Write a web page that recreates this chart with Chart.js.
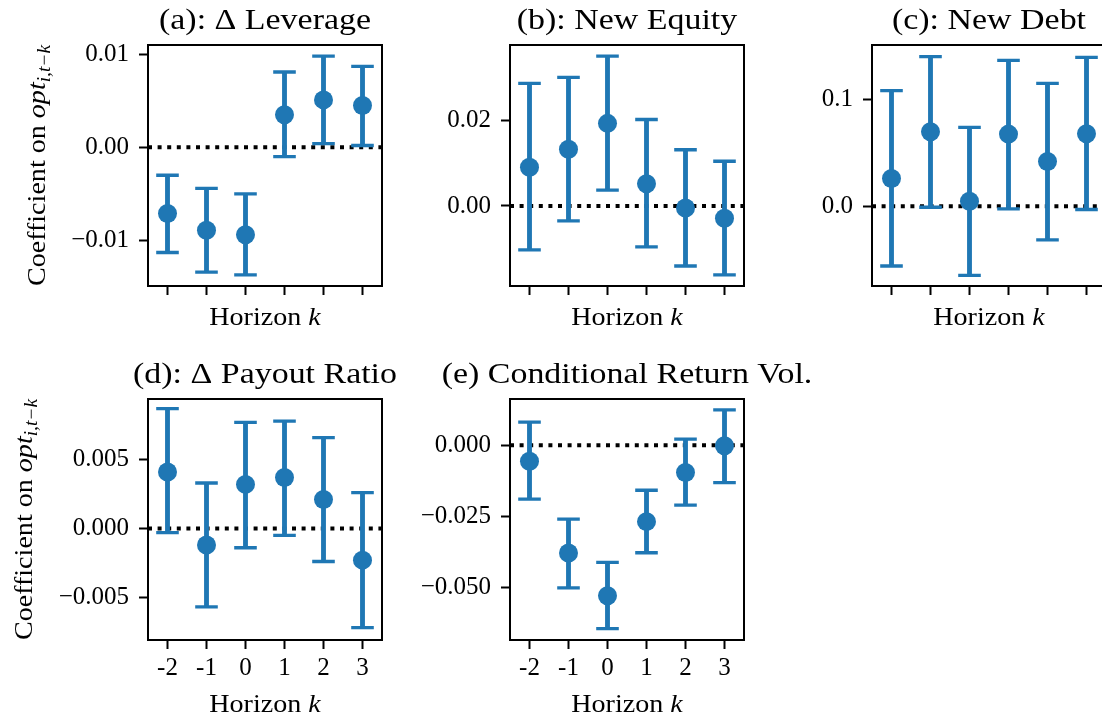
<!DOCTYPE html>
<html>
<head>
<meta charset="utf-8">
<script src="https://cdn.jsdelivr.net/npm/chart.js@4.4.1/dist/chart.umd.min.js"></script>
<style>
  html, body { margin: 0; padding: 0; background: #fff; }
  body { width: 1102px; height: 717px; overflow: hidden; position: relative; }
  .panel { position: absolute; width: 480px; height: 366px; }
</style>
</head>
<body>
<div class="panel" id="wrap-a"><canvas id="chart-a" width="480" height="366"></canvas></div>
<div class="panel" id="wrap-b"><canvas id="chart-b" width="480" height="366"></canvas></div>
<div class="panel" id="wrap-c"><canvas id="chart-c" width="480" height="366"></canvas></div>
<div class="panel" id="wrap-d"><canvas id="chart-d" width="480" height="366"></canvas></div>
<div class="panel" id="wrap-e"><canvas id="chart-e" width="480" height="366"></canvas></div>
<script>
const horizons = ['-2', '-1', '0', '1', '2', '3'];

// (a) leverage
const levCoef = [-0.0071, -0.0089, -0.0094, 0.0035, 0.0051, 0.0045];
const levLow = [-0.0113, -0.0134, -0.0137, -0.0010, 0.0004, 0.0002];
const levHigh = [-0.0030, -0.0044, -0.0050, 0.0081, 0.0098, 0.0087];
const levTicks = [-0.01, 0, 0.01];
const levTickLabels = ['\u22120.01', '0.00', '0.01'];
const levRange = [-0.0149, 0.0110];

// (b) new equity
const eqCoef = [0.0091, 0.0133, 0.0194, 0.0052, -0.0005, -0.0029];
const eqLow = [-0.0103, -0.0035, 0.0037, -0.0096, -0.0141, -0.0162];
const eqHigh = [0.0288, 0.0302, 0.0352, 0.0203, 0.0132, 0.0105];
const eqTicks = [0, 0.02];
const eqTickLabels = ['0.00', '0.02'];
const eqRange = [-0.0188, 0.0378];

// (c) new debt
const debtCoef = [0.0260, 0.0697, 0.0047, 0.0675, 0.0419, 0.0678];
const debtLow = [-0.0560, -0.0010, -0.0647, -0.0025, -0.0316, -0.0031];
const debtHigh = [0.1081, 0.1400, 0.0737, 0.1366, 0.1150, 0.1394];
const debtTicks = [0, 0.1];
const debtTickLabels = ['0.0', '0.1'];
const debtRange = [-0.0747, 0.1509];

// (d) payout ratio
const payCoef = [0.0041, -0.0012, 0.0032, 0.0037, 0.0021, -0.0023];
const payLow = [-0.0003, -0.0057, -0.0014, -0.0005, -0.0024, -0.0072];
const payHigh = [0.0087, 0.0033, 0.0077, 0.0078, 0.0066, 0.0026];
const payTicks = [-0.005, 0, 0.005];
const payTickLabels = ['\u22120.005', '0.000', '0.005'];
const payRange = [-0.0081, 0.0094];

// (e) conditional return vol
const volCoef = [-0.0056, -0.0378, -0.0528, -0.0268, -0.0096, -0.0002];
const volLow = [-0.0189, -0.0500, -0.0643, -0.0377, -0.0210, -0.0131];
const volHigh = [0.0081, -0.0259, -0.0411, -0.0158, 0.0021, 0.0124];
const volTicks = [-0.05, -0.025, 0];
const volTickLabels = ['\u22120.050', '\u22120.025', '0.000'];
const volRange = [-0.0683, 0.0162];

const blue = '#1f77b4';
const serif = '"Liberation Serif", "DejaVu Serif", serif';

// draws pieces of text (some italic / subscript) centred on x,y
function drawRuns(ctx, runs, x, y, angle, stretch) {
    let total = 0;
    runs.forEach(r => {
        ctx.font = `${r.italic ? 'italic ' : ''}${r.size}px ${serif}`;
        r.w = ctx.measureText(r.t).width;
        total += r.w;
    });
    ctx.save();
    ctx.translate(x, y);
    ctx.rotate(angle);
    ctx.scale(stretch || 1, 1);
    ctx.fillStyle = '#000';
    ctx.textBaseline = 'alphabetic';
    ctx.textAlign = 'left';
    let cx = -total / 2;
    runs.forEach(r => {
        ctx.font = `${r.italic ? 'italic ' : ''}${r.size}px ${serif}`;
        ctx.fillText(r.t, cx, r.dy || 0);
        cx += r.w;
    });
    ctx.restore();
}

const panelDecor = {
    id: 'panelDecor',
    beforeDatasetsDraw(chart) {
        const ctx = chart.ctx;
        const area = chart.chartArea;
        const y0 = chart.scales.y.getPixelForValue(0);
        ctx.save();
        ctx.strokeStyle = '#000';
        ctx.lineWidth = 4;
        ctx.setLineDash([4, 5.6]);
        ctx.beginPath();
        ctx.moveTo(area.left, y0);
        ctx.lineTo(area.right, y0);
        ctx.stroke();
        ctx.restore();
    },
    afterDatasetsDraw(chart) {
        const ctx = chart.ctx;
        const area = chart.chartArea;
        const opts = chart.options.plugins.panelDecor;
        ctx.save();
        ctx.strokeStyle = '#000';
        ctx.lineWidth = 2;
        ctx.strokeRect(area.left, area.top, area.right - area.left, area.bottom - area.top);
        ctx.restore();

        const mid = (area.left + area.right) / 2;
        drawRuns(ctx, [{t: opts.title, size: 29}], mid, area.top - 16, 0, 1.17);
        drawRuns(ctx, [{t: 'Horizon ', size: 26}, {t: 'k', size: 26, italic: true}],
            mid, area.bottom + opts.xLabelGap, 0, 1.08);
        if (opts.yLabelGap) {
            drawRuns(ctx, [
                {t: 'Coefficient on ', size: 26},
                {t: 'opt', size: 26, italic: true},
                {t: 'i,t\u2212k', size: 18, italic: true, dy: 5}
            ], area.left - opts.yLabelGap, (area.top + area.bottom) / 2, -Math.PI / 2, 1.08);
        }
    }
};

function makePanel(id, left, top, title, coef, low, high, ticks, tickLabels, range, showXTicks, xLabelGap, yLabelGap) {
    const wrap = document.getElementById('wrap-' + id);
    wrap.style.left = (left - 150) + 'px';
    wrap.style.top = (top - 45) + 'px';

    const ctx = document.getElementById('chart-' + id).getContext('2d');
    return new Chart(ctx, {
        type: 'bar',
        data: {
            labels: horizons,
            datasets: [
                {
                    type: 'line',
                    data: coef,
                    showLine: false,
                    pointStyle: 'circle',
                    pointRadius: 9.5,
                    pointBackgroundColor: blue,
                    pointBorderWidth: 0,
                    borderColor: blue
                },
                {
                    type: 'line',
                    data: low,
                    showLine: false,
                    pointStyle: 'line',
                    pointRadius: 11.3,
                    pointBorderWidth: 3.3,
                    borderColor: blue
                },
                {
                    type: 'line',
                    data: high,
                    showLine: false,
                    pointStyle: 'line',
                    pointRadius: 11.3,
                    pointBorderWidth: 3.3,
                    borderColor: blue
                },
                {
                    type: 'bar',
                    data: low.map((l, i) => [l, high[i]]),
                    backgroundColor: blue,
                    borderWidth: 0,
                    barThickness: 4.2
                }
            ]
        },
        options: {
            responsive: false,
            animation: false,
            events: [],
            layout: { padding: { top: 45, right: 96, bottom: 0, left: 0 } },
            plugins: {
                legend: { display: false },
                tooltip: { enabled: false },
                panelDecor: { title: title, xLabelGap: xLabelGap, yLabelGap: yLabelGap }
            },
            scales: {
                x: {
                    type: 'category',
                    offset: true,
                    grid: { offset: false, drawOnChartArea: false, drawTicks: true, tickLength: 9, tickWidth: 2, tickColor: '#000' },
                    border: { display: false },
                    ticks: { display: showXTicks, color: '#000', padding: 4, maxRotation: 0, font: { family: serif, size: 25 } },
                    afterFit: s => { s.height = 80; }
                },
                y: {
                    type: 'linear',
                    min: range[0],
                    max: range[1],
                    grid: { drawOnChartArea: false, drawTicks: true, tickLength: 9, tickWidth: 2, tickColor: '#000' },
                    border: { display: false },
                    afterBuildTicks: s => { s.ticks = ticks.map(v => ({ value: v })); },
                    ticks: {
                        color: '#000',
                        padding: 10,
                        font: { family: serif, size: 25 },
                        callback: (v, i) => tickLabels[i]
                    },
                    afterFit: s => { s.width = 150; }
                }
            }
        },
        plugins: [panelDecor]
    });
}

makePanel('a', 148, 45, '(a): \u0394 Leverage', levCoef, levLow, levHigh, levTicks, levTickLabels, levRange, false, 39, 103);
makePanel('b', 510, 45, '(b): New Equity', eqCoef, eqLow, eqHigh, eqTicks, eqTickLabels, eqRange, false, 39, 0);
makePanel('c', 872, 45, '(c): New Debt', debtCoef, debtLow, debtHigh, debtTicks, debtTickLabels, debtRange, false, 39, 0);
makePanel('d', 148, 399, '(d): \u0394 Payout Ratio', payCoef, payLow, payHigh, payTicks, payTickLabels, payRange, true, 72, 116);
makePanel('e', 510, 399, '(e) Conditional Return Vol.', volCoef, volLow, volHigh, volTicks, volTickLabels, volRange, true, 72, 0);
</script>
</body>
</html>
